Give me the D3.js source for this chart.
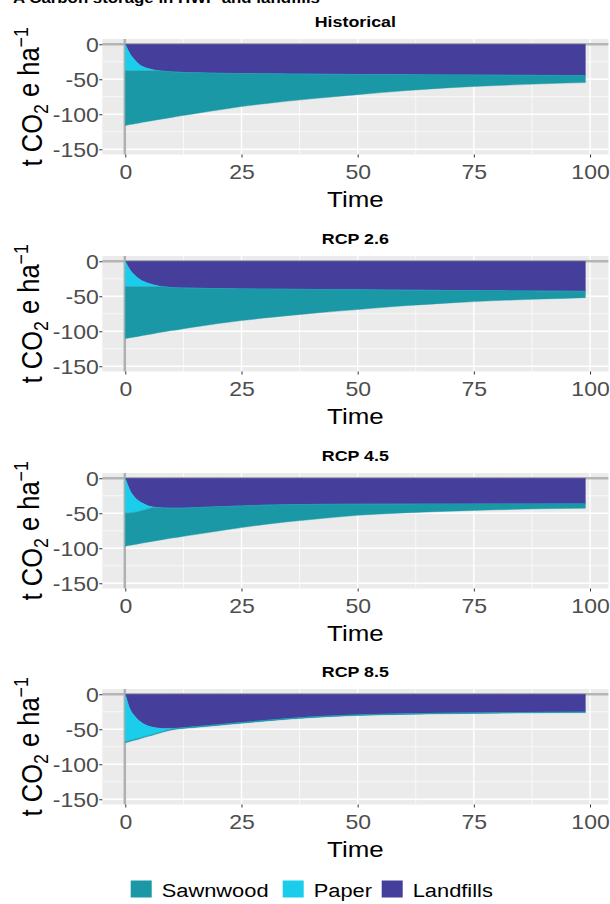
<!DOCTYPE html>
<html>
<head>
<meta charset="utf-8">
<script src="https://cdn.jsdelivr.net/npm/d3@7"></script>
<style>
  body { margin: 0; background: #fff; }
  text { font-family: "Liberation Sans", Arial, sans-serif; }
</style>
</head>
<body>
<script>
// years after harvest
const time = [0, 1, 2, 3, 4, 5, 6, 8, 10, 12, 15, 20, 25, 30, 40, 50, 60, 70, 80, 90, 99];

// t CO2 e / ha, stored as negative storage
const histLandfills = [0, -13.5, -22, -29, -32.5, -34.8, -36.5, -38.5, -39.5, -40.2, -40.8, -41.5, -41.9, -42.2, -42.8, -43.2, -43.5, -43.9, -44.2, -44.5, -44.8];
const histPaper = [-38, -24.5, -16, -9, -5.5, -3.2, -1.5, 0, 0, 0, 0, 0, 0, 0, 0, 0, 0, 0, 0, 0, 0];
const histSawnwood = [-78, -76.8, -75.6, -74.4, -73.2, -72, -70.9, -68.2, -65, -62.1, -58.4, -52.5, -47.1, -42.8, -35.2, -28.8, -23, -18.1, -14.8, -12, -10];

const rcp26Landfills = [0, -12, -19.5, -25.3, -29, -31.5, -33.5, -36.3, -37.7, -38.2, -38.6, -39.1, -39.5, -39.8, -40.3, -40.8, -41.3, -41.8, -42.3, -42.7, -43];
const rcp26Paper = [-36.3, -24.3, -16.8, -11, -7.3, -4.8, -2.8, 0, 0, 0, 0, 0, 0, 0, 0, 0, 0, 0, 0, 0, 0];
const rcp26Sawnwood = [-74.2, -73, -71.8, -70.7, -69.5, -68.3, -67.1, -64.8, -61.3, -58.8, -55.2, -49.9, -45.3, -41.2, -34.2, -28.2, -22.4, -17.7, -13.9, -11.2, -9];

const rcp45Landfills = [0, -17, -27, -32.8, -36.5, -39.5, -41, -42.4, -42.9, -42.8, -42, -40.8, -39.6, -38.5, -37.4, -37.1, -37, -36.9, -36.8, -36.7, -36.7];
const rcp45Paper = [-50, -32.5, -21.5, -14.2, -9, -4, -1, 0, 0, 0, 0, 0, 0, 0, 0, 0, 0, 0, 0, 0, 0];
const rcp45Sawnwood = [-47, -46.3, -46.1, -46.4, -46.7, -47.5, -47.9, -45.3, -42.6, -40.7, -38.5, -34.7, -30.9, -27.5, -21.6, -15.9, -12.5, -10.1, -8.2, -6.9, -6.1];

const rcp85Landfills = [0, -21, -31, -38, -42.5, -45.5, -47.3, -48.8, -48.8, -48.2, -46.5, -43.5, -40.5, -37.5, -32.5, -29.5, -28, -27, -26.3, -25.8, -25.5];
const rcp85Paper = [-68, -45, -33.3, -24.5, -18.1, -13.3, -9.7, -4.4, -1, 0, 0, 0, 0, 0, 0, 0, 0, 0, 0, 0, 0];
const rcp85Sawnwood = [-1.5, -1.5, -1.4, -1.4, -1.3, -1.3, -1.3, -1.2, -1.2, -1.1, -1.1, -1, -1, -0.9, -0.9, -0.8, -0.8, -0.8, -0.7, -0.7, -0.7];

const panelTitles = ["Historical", "RCP 2.6", "RCP 4.5", "RCP 8.5"];
const seriesNames = ["Sawnwood", "Paper", "Landfills"];
const xTicks = [0, 25, 50, 75, 100];
const xMinor = [12.5, 37.5, 62.5, 87.5];
const yTicks = [0, -50, -100, -150];
const yMinor = [-25, -75, -125];

const panels = [
  { title: panelTitles[0], landfills: histLandfills, paper: histPaper, sawnwood: histSawnwood },
  { title: panelTitles[1], landfills: rcp26Landfills, paper: rcp26Paper, sawnwood: rcp26Sawnwood },
  { title: panelTitles[2], landfills: rcp45Landfills, paper: rcp45Paper, sawnwood: rcp45Sawnwood },
  { title: panelTitles[3], landfills: rcp85Landfills, paper: rcp85Paper, sawnwood: rcp85Sawnwood }
];

const colors = { Sawnwood: "#1b98a5", Paper: "#1acdea", Landfills: "#453f9b" };
const sx = 1.15; // the original picture is stretched a bit sideways

const svg = d3.select("body").append("svg")
  .attr("width", 610).attr("height", 904);
svg.append("rect").attr("width", 610).attr("height", 904).attr("fill", "#fff");

// figure heading, cut off at the top edge as in the original
svg.append("text")
  .attr("x", 13).attr("y", 3)
  .attr("font-size", 15).attr("font-weight", "bold")
  .attr("textLength", 307).attr("lengthAdjust", "spacingAndGlyphs")
  .text("A Carbon storage in HWP and landfills");

const x = d3.scaleLinear().domain([-4.95, 103.95]).range([102.3, 608.4]);
const panelTops = [39, 256, 473, 689];
const panelH = 115.5;

panels.forEach((p, i) => {
  const top = panelTops[i];
  const y = d3.scaleLinear().domain([-157.5, 7.5]).range([top + panelH, top]);
  const g = svg.append("g");
  const [x0, x1] = x.range();

  g.append("rect")
    .attr("x", x0).attr("y", top)
    .attr("width", x1 - x0).attr("height", panelH)
    .attr("fill", "#ebebeb");

  // grid
  g.selectAll(".ymin").data(yMinor).join("line")
    .attr("x1", x0).attr("x2", x1)
    .attr("y1", d => y(d)).attr("y2", d => y(d))
    .attr("stroke", "#fff").attr("stroke-width", 0.7);
  g.selectAll(".xmin").data(xMinor).join("line")
    .attr("y1", top).attr("y2", top + panelH)
    .attr("x1", d => x(d)).attr("x2", d => x(d))
    .attr("stroke", "#fff").attr("stroke-width", 0.7);
  g.selectAll(".ymaj").data(yTicks).join("line")
    .attr("x1", x0).attr("x2", x1)
    .attr("y1", d => y(d)).attr("y2", d => y(d))
    .attr("stroke", "#fff").attr("stroke-width", 1.4);
  g.selectAll(".xmaj").data(xTicks).join("line")
    .attr("y1", top).attr("y2", top + panelH)
    .attr("x1", d => x(d)).attr("x2", d => x(d))
    .attr("stroke", "#fff").attr("stroke-width", 1.4);

  // reference lines at zero
  g.append("line")
    .attr("x1", x0).attr("x2", x1).attr("y1", y(0)).attr("y2", y(0))
    .attr("stroke", "#b5b5b5").attr("stroke-width", 2.5);
  g.append("line")
    .attr("x1", x(0) - 0.5).attr("x2", x(0) - 0.5).attr("y1", top).attr("y2", top + panelH)
    .attr("stroke", "#b0b0b0").attr("stroke-width", 2.5);

  const rows = time.map((t, j) => ({
    t: t,
    Landfills: p.landfills[j],
    Paper: p.paper[j],
    Sawnwood: p.sawnwood[j]
  }));
  const stacked = d3.stack().keys(["Landfills", "Paper", "Sawnwood"])(rows);
  const area = d3.area()
    .x(d => x(d.data.t))
    .y0(d => y(d[0]))
    .y1(d => y(d[1]))
    .curve(d3.curveMonotoneX);

  g.selectAll(".area").data(stacked).join("path")
    .attr("d", area)
    .attr("fill", d => colors[d.key])
    .attr("stroke", d => colors[d.key])
    .attr("stroke-width", 0.4);

  // axes
  const ya = g.append("g")
    .attr("transform", `translate(${x0},0)`)
    .call(d3.axisLeft(y).tickValues(yTicks).tickSize(3).tickFormat(d => d.toString()));
  ya.select(".domain").remove();
  ya.selectAll("line").attr("stroke", "#333");
  ya.selectAll("text")
    .attr("x", -3.5 / sx).attr("dy", "0.36em")
    .attr("transform", `scale(${sx},1)`)
    .attr("font-size", 20).attr("fill", "#4d4d4d")
    .attr("font-family", "Liberation Sans, Arial, sans-serif");

  const xa = g.append("g")
    .attr("transform", `translate(0,${top + panelH})`)
    .call(d3.axisBottom(x).tickValues(xTicks).tickSize(3).tickFormat(d => d.toString()));
  xa.select(".domain").remove();
  xa.selectAll("line").attr("stroke", "#333");
  xa.selectAll("text")
    .attr("y", 25).attr("dy", 0)
    .attr("transform", `scale(${sx},1)`)
    .attr("font-size", 20).attr("fill", "#4d4d4d")
    .attr("font-family", "Liberation Sans, Arial, sans-serif");

  const cx = (x0 + x1) / 2;
  g.append("text")
    .attr("transform", `translate(${cx},${top - 12}) scale(${sx},1)`)
    .attr("text-anchor", "middle")
    .attr("font-size", 15.5).attr("font-weight", "bold")
    .text(p.title);

  g.append("text")
    .attr("transform", `translate(${cx},${top + panelH + 52}) scale(${sx},1)`)
    .attr("text-anchor", "middle")
    .attr("font-size", 22.5)
    .text("Time");

  const yt = g.append("text")
    .attr("transform", `translate(42,${top + panelH / 2}) scale(${sx},1) rotate(-90)`)
    .attr("text-anchor", "middle")
    .attr("font-size", 25.5);
  yt.append("tspan").text("t CO");
  yt.append("tspan").attr("font-size", "0.7em").attr("dy", "0.3em").text("2");
  yt.append("tspan").attr("dy", "-0.3em").text(" e ha");
  yt.append("tspan").attr("font-size", "0.7em").attr("dy", "-0.55em").text("\u22121");
});

// legend
const legendX = [130.7, 282.7, 381.7];
const legend = svg.append("g");
seriesNames.forEach((name, i) => {
  legend.append("rect")
    .attr("x", legendX[i]).attr("y", 880.5)
    .attr("width", 21).attr("height", 17)
    .attr("fill", colors[name]);
  legend.append("text")
    .attr("transform", `translate(${legendX[i] + 31},896.5) scale(${sx},1)`)
    .attr("font-size", 19)
    .text(name);
});
</script>
</body>
</html>
